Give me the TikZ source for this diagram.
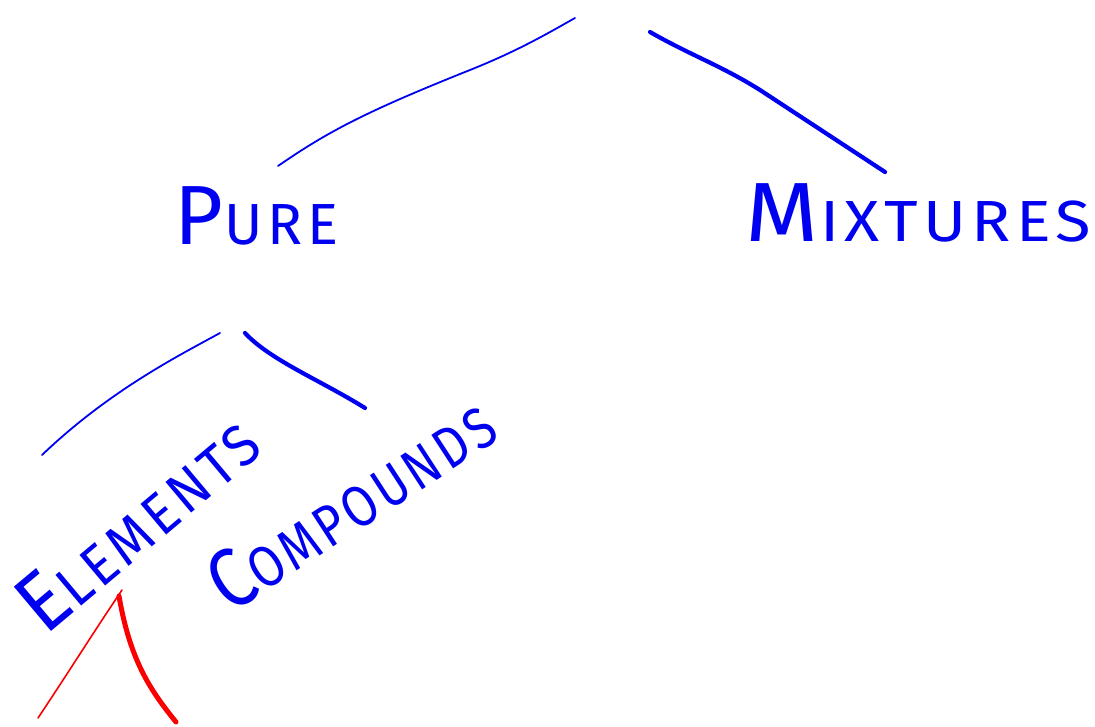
\documentclass[tikz,border=0pt]{standalone}
\usepackage{fontspec}
\setmainfont{Fira Sans}
\definecolor{ink}{RGB}{0,0,240}
\definecolor{redink}{RGB}{250,0,0}
\tikzset{
  thinstroke/.style={draw=ink, line width=1.8pt, line cap=round, line join=round},
  thickstroke/.style={draw=ink, line width=4.2pt, line cap=round, line join=round},
  redthin/.style={draw=redink, line width=1.6pt, line cap=round},
  redthick/.style={draw=redink, line width=5pt, line cap=round},
  word/.style={text=ink, inner sep=0pt},
}
\newcommand{\capletter}[1]{{\fontsize{84}{84}\selectfont #1}}
\newcommand{\smallletters}[1]{{\fontsize{58}{58}\selectfont\addfontfeature{LetterSpace=8}#1}}
\begin{document}
\begin{tikzpicture}[x=1pt,y=-1pt]
  \useasboundingbox (0,0) rectangle (1095,727);
  % words
  \node[word, anchor=base west] (pure) at (174,245) {\capletter{P}\,\smallletters{URE}};
  \node[word, anchor=base west, xscale=1.12] (mix) at (745,242) {\capletter{M}\,\smallletters{IXTURES}};
  \node[word, rotate=40, xscale=0.93] (elem) at (137,522) {\capletter{E}\smallletters{LEMENTS}};
  \node[word, rotate=33, xscale=0.84] (comp) at (350,502) {\capletter{C}\smallletters{OMPOUNDS}};
  % branch points
  \coordinate (top1) at (575,18);
  \coordinate (top2) at (650,32);
  \coordinate (p1) at (278,166);
  \coordinate (m1) at (885,172);
  \coordinate (pa) at (220,333);
  \coordinate (pb) at (245,333);
  \coordinate (e1) at (42,455);
  \coordinate (c1) at (365,408);
  \coordinate (ra) at (122,590);
  \coordinate (rb) at (119,596);
  \coordinate (r1) at (38,718);
  \coordinate (r2) at (176,722);
  % strokes from the root
  \draw[thinstroke] (p1) .. controls (330,130) and (370,110) .. (470,70) .. controls (520,50) and (550,32) .. (top1);
  \draw[thickstroke] (top2) .. controls (690,55) and (720,65) .. (760,90) -- (m1);
  % strokes under PURE
  \draw[thinstroke] (pa) .. controls (180,355) and (110,390) .. (e1);
  \draw[thickstroke] (pb) .. controls (270,360) and (320,380) .. (c1);
  % red strokes under ELEMENTS
  \draw[redthin] (ra) .. controls (95,630) and (70,670) .. (r1);
  \draw[redthick] (rb) .. controls (130,660) and (150,690) .. (r2);
\end{tikzpicture}
\end{document}
